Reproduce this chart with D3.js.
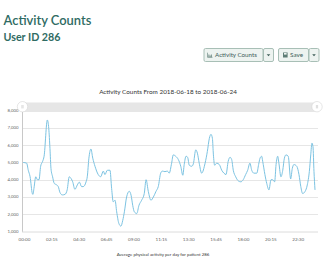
<!DOCTYPE html>
<html><head><meta charset="utf-8">
<script src="https://cdn.jsdelivr.net/npm/d3@7"></script>
<style>
html,body{margin:0;padding:0;background:#fff;overflow:hidden}
svg{display:block;font-family:Lato,"Open Sans",sans-serif}
</style></head>
<body>
<svg id="c" width="327" height="273"></svg>
<script>
// minutes since midnight
const minutes = [1,18,26,35,46,49,54,63,71,79,87,97,104,120,127,133,138,146,154,166,174,182,194,207,218,228,237,245,256,268,278,289,297,311,317,325,335,344,355,371,383,396,404,416,429,437,445,454,462,473,483,492,500,511,524,533,541,549,561,572,585,598,607,618,631,643,656,667,679,687,700,712,721,733,741,753,766,778,788,795,804,812,820,832,840,852,860,869,881,898,909,919,927,934,939,945,955,968,980,991,1001,1012,1021,1029,1037,1049,1062,1074,1086,1098,1108,1119,1128,1139,1153,1162,1169,1177,1182,1193,1202,1213,1223,1231,1241,1248,1256,1262,1272,1281,1289,1297,1308,1320,1328,1336,1350,1361,1370,1379,1391,1402,1412,1419,1425,1430,1435,1440];
const counts = [5000,4960,4550,4170,3200,3150,3500,4170,4000,4000,4780,5070,5360,7460,6980,5800,4650,4170,3790,3700,3600,3270,3120,3150,3420,4170,4070,3880,3440,3700,3860,3600,3600,3880,4170,5250,5780,5250,4780,4300,4170,4500,4300,4550,4550,3500,2720,2810,2140,1460,1310,1650,2140,3000,3330,3100,2520,2140,2040,2520,2810,3200,4000,3320,2810,3000,3330,3600,4380,4500,4470,4500,4380,4960,5440,5360,5170,4780,4260,4880,5360,5300,4840,4780,4920,5730,5540,4960,4380,4960,5630,6400,6630,6400,5440,4840,4960,4880,4550,4380,4300,5070,5300,5170,4550,4170,3930,3880,4000,4300,4550,4960,4550,4380,4380,4880,5250,5360,5070,4300,3790,3410,4000,4000,3880,4880,5360,4960,4170,4550,5250,5440,5360,4050,4650,4880,4780,4300,3600,3200,3320,3700,4470,5440,6120,5920,4470,3410];
const yTicks = [1000,2000,3000,4000,5000,6000,7000,8000];
const xTickLabels = ["00:00","02:15","04:30","06:45","09:00","11:15","13:30","15:45","18:00","20:15","22:30"];
const pageTitle = "Activity Counts";
const pageSubtitle = "User ID 286";
const chartTitle = "Activity Counts From 2018-06-18 to 2018-06-24";
const footer = "Average physical activity per day for patient 286";
const buttons = ["Activity Counts","Save"];

const svg = d3.select("#c");
const teal = "#2f6b63";

function fit(sel, w){
  const n = sel.node(); const fs = parseFloat(sel.attr("font-size"));
  const cur = n.getComputedTextLength();
  if(cur>0) sel.attr("font-size", fs*w/cur);
  return sel;
}

// header
fit(svg.append("text").attr("x",3.5).attr("y",24.5).attr("font-size",14).attr("font-weight",600).attr("fill",teal).text(pageTitle),88);
fit(svg.append("text").attr("x",3.5).attr("y",40.5).attr("font-size",11).attr("font-weight",700).attr("fill",teal).text(pageSubtitle),57);

// buttons
function button(x,w,label,icon,tx,tw,ix){
  const g = svg.append("g");
  g.append("rect").attr("x",x+0.5).attr("y",48.5).attr("width",w).attr("height",13).attr("rx",1.5)
   .attr("fill","#edf3f0").attr("stroke","#a8bfb6");
  if(label){
    fit(g.append("text").attr("x",tx).attr("y",57.2).attr("font-size",6).attr("fill","#40605a").text(label), tw);
    if(icon==="bar"){
      g.append("path").attr("d",`M${ix},52.7 V57.3 H${ix+5}`).attr("fill","none").attr("stroke","#5d7c75").attr("stroke-width",0.6);
      [1,2.2,3.4].forEach((d,i)=>g.append("rect").attr("x",ix+d).attr("y",54.5+(i%2)).attr("width",0.8).attr("height",2.8-(i%2)).attr("fill","#5d7c75"));
    } else {
      g.append("rect").attr("x",ix).attr("y",52.5).attr("width",4.6).attr("height",5).attr("fill","#5d7c75");
      g.append("rect").attr("x",ix+1).attr("y",53).attr("width",2.6).attr("height",1.6).attr("fill","#edf3f0");
    }
  } else {
    g.append("path").attr("d",`M${x+w/2-1.3},54.3 L${x+w/2+2.3},54.3 L${x+w/2+0.5},56.3Z`).attr("fill","#40605a");
  }
}
button(203.5,59,buttons[0],"bar",215,42,207.5);
button(263,10,null);
button(278,30,buttons[1],"save",290,13,283);
button(308.5,10,null);

// chart
const x = d3.scaleLinear().domain([0,1440]).range([23,315]);
const y = d3.scaleLinear().domain([1000,8000]).range([231.5,110.7]);

fit(svg.append("text").attr("x",168).attr("y",93.5).attr("text-anchor","middle").attr("font-size",7).attr("fill","#333").text(chartTitle),138);

// gridlines
svg.append("g").selectAll("line").data(yTicks.slice(1)).join("line")
  .attr("x1",22).attr("x2",318).attr("y1",d=>Math.round(y(d))+0.5).attr("y2",d=>Math.round(y(d))+0.5)
  .attr("stroke","#e6e6e6").attr("stroke-width",1);

// y labels
svg.append("g").selectAll("text").data(yTicks).join("text")
  .attr("x",18.5).attr("y",d=>y(d)+1.5).attr("text-anchor","end").attr("font-size",4.3).attr("fill","#666")
  .text(d=>d3.format(",")(d));

// axes lines
svg.append("line").attr("x1",22.5).attr("x2",22.5).attr("y1",110).attr("y2",232).attr("stroke","#c8c8c8");
svg.append("line").attr("x1",22).attr("x2",318).attr("y1",232).attr("y2",232).attr("stroke","#dcdcdc");

// x labels
const xt = xTickLabels.map((l,i)=>({l,m:i*135}));
svg.append("g").selectAll("text").data(xt).join("text")
  .attr("x",d=>x(d.m)+1.5).attr("y",240.5).attr("text-anchor","middle").attr("font-size",4.6).attr("fill","#666")
  .text(d=>d.l);

// line
const pts = minutes.map((m,i)=>[m,counts[i]]);
svg.append("path").datum(pts)
  .attr("d",d3.line().x(d=>x(d[0])).y(d=>y(d[1])).curve(d3.curveMonotoneX))
  .attr("fill","none").attr("stroke","#7cc3e2").attr("stroke-width",1);

// slider
svg.append("rect").attr("x",22).attr("y",102.5).attr("width",296).attr("height",8.5).attr("fill","#e6e6e6");
[22.5,317].forEach(cx=>{
  svg.append("circle").attr("cx",cx).attr("cy",106.7).attr("r",5.2).attr("fill","#fff").attr("stroke","#d5d5d5").attr("stroke-width",0.6);
  svg.append("line").attr("x1",cx-0.6).attr("x2",cx-0.6).attr("y1",105).attr("y2",108.4).attr("stroke","#aaa").attr("stroke-width",0.4);
  svg.append("line").attr("x1",cx+0.6).attr("x2",cx+0.6).attr("y1",105).attr("y2",108.4).attr("stroke","#aaa").attr("stroke-width",0.4);
});

// footer
fit(svg.append("text").attr("x",163).attr("y",256).attr("text-anchor","middle").attr("font-size",5).attr("fill","#333").text(footer),93);
</script>
</body></html>
